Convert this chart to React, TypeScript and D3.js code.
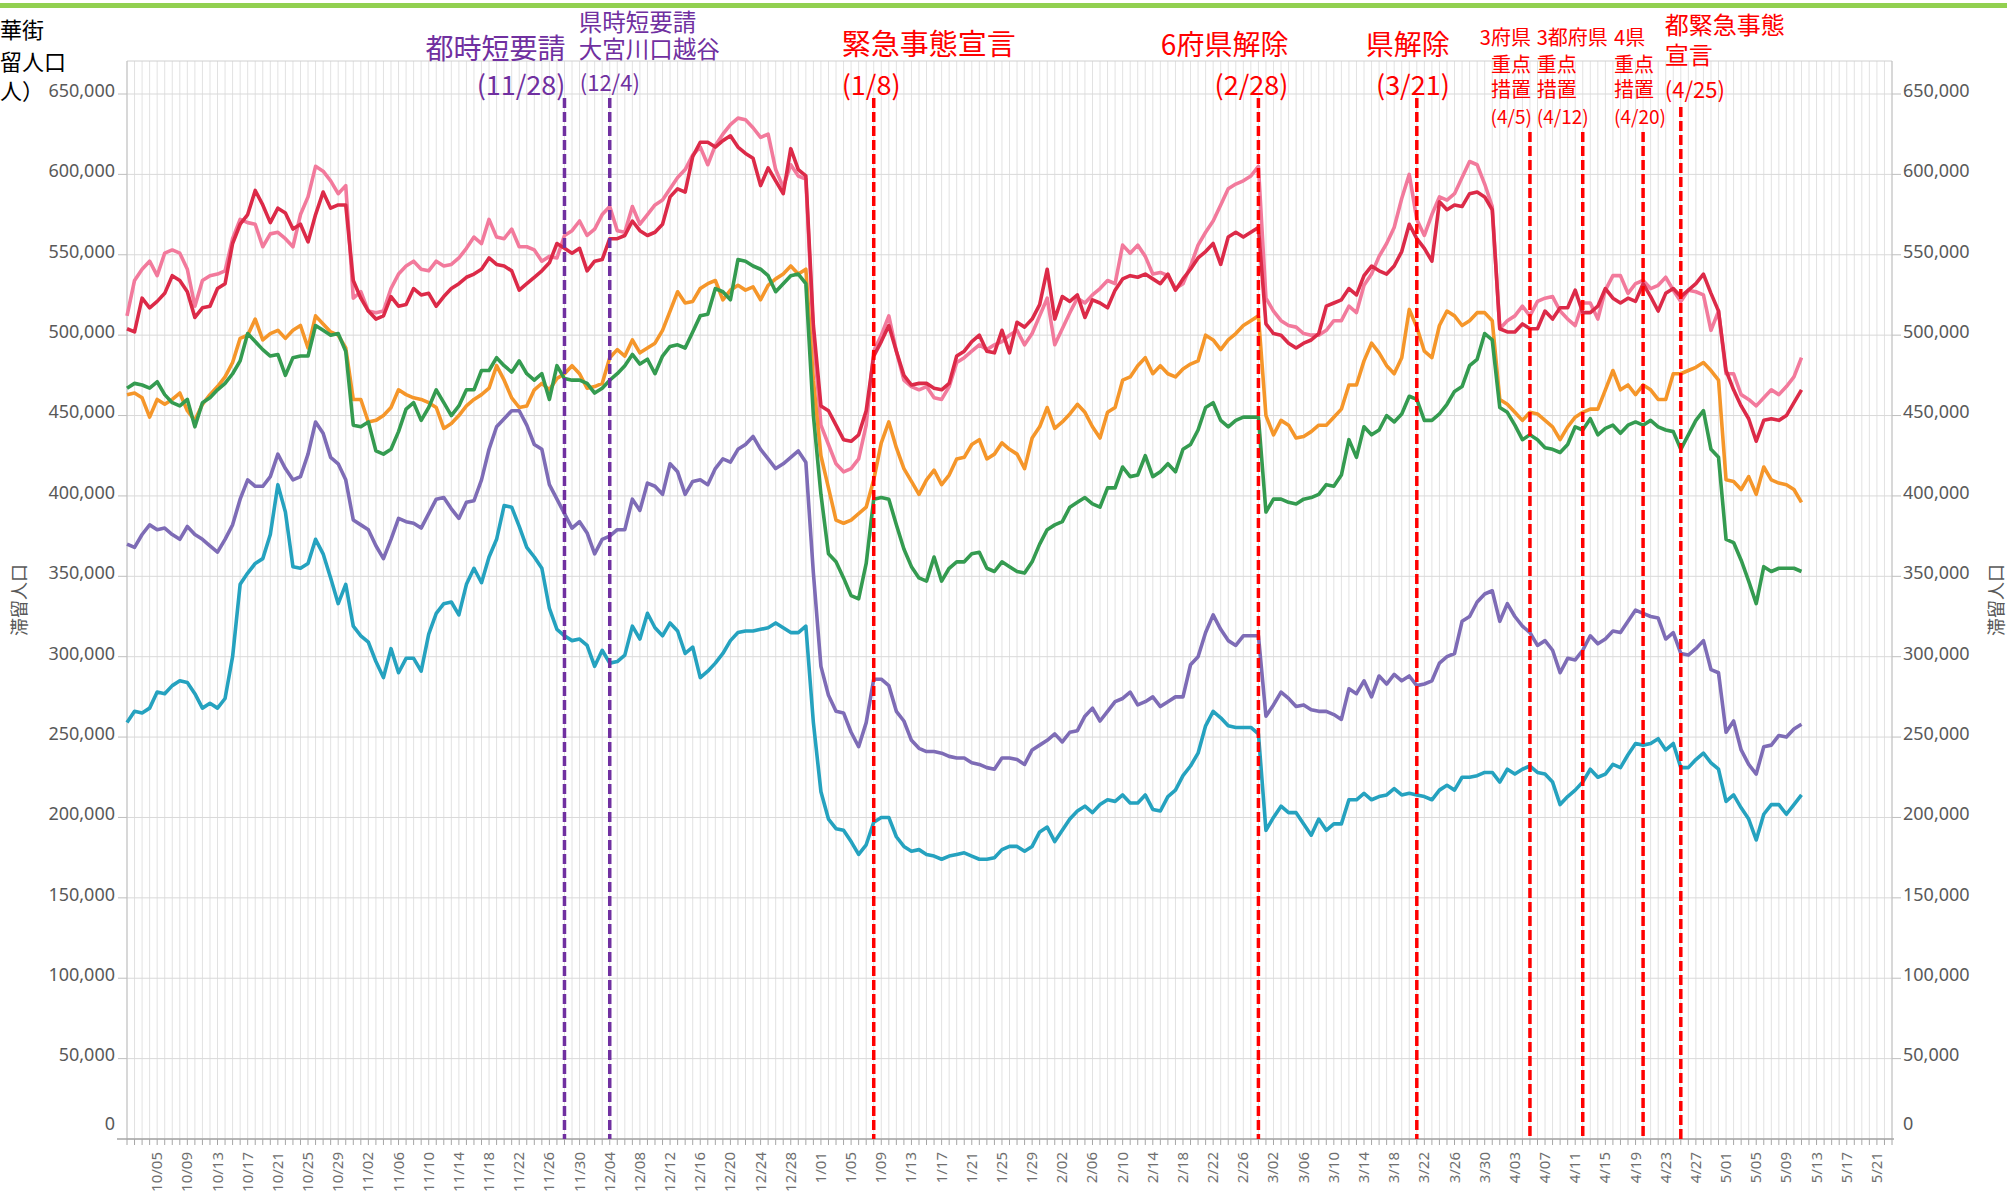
import React from 'react';
import * as d3 from 'd3';

// ---------------- DATA ----------------
const startDate = '2020-10-01';
const axisEndDate = '2021-05-23';

const seriesPink = [512,534,541,546,537,551,553,551,541,518, 534,537,538,540,560,572,570,569,555,563, 564,560,555,575,586,605,602,596,588,593, 523,527,515,514,515,529,538,543,546,541, 540,546,543,544,548,554,561,557,572,561, 560,566,555,555,553,546,549,548,562,565,
571,562,566,575,580,565,564,580,569,575, 581,584,591,598,603,612,617,606,618,625, 631,635,634,629,623,625,603,592,606,599, 597,500,444,432,420,415,417,423,444,490, 500,512,490,472,468,466,468,461,460,468, 483,486,490,494,491,
494,496,500,503,494, 501,512,523,494,504, 514,523,520,525,529, 534,532,556,551,556, 549,538,539,537,529, 532,543,556,564,571, 581,591,594,596,599, 605,523,515,509,506, 505,501,500,500,503, 509,509,518,514,531, 538,549,557,567,585, 600,
572,562,575,586,584,588,598,608,606,594, 580,504,509,512,518,512,521,523,524,515, 510,506,520,520,510,528,537,537,526,532, 534,529,531,536,528,521,528,527,525,503, 515,476,476,463,460,456,461,466,463,468, 474,486];

const seriesRed = [504,502,523,517,521,526,537,534,527,511, 517,518,529,532,557,569,575,590,581,570, 579,576,566,569,558,575,589,579,581,581, 534,523,515,510,512,524,518,519,529,525, 526,518,524,529,532,536,538,541,548,544, 543,540,528,532,536,540,545,557,554,551,
554,540,546,547,560,560,562,571,565,562, 564,569,586,591,589,611,620,620,617,621, 624,617,613,610,593,604,596,588,616,603, 599,506,456,453,444,435,434,438,453,487, 496,506,490,475,469,470,470,467,466,470, 487,490,496,500,490,
489,503,489,508,505, 510,519,541,510,524, 521,525,511,522,520, 517,528,535,537,536, 538,535,532,538,528, 535,541,548,552,557, 544,561,564,561,564, 567,507,501,500,495, 492,495,497,501,518, 520,522,529,525,537, 543,540,538,543,552, 569,
560,554,546,583,578,581,580,588,589,586, 578,504,502,502,507,504,504,515,510,517, 517,528,514,514,518,529,523,520,523,521, 532,524,515,526,529,524,528,532,538,526, 515,478,466,456,448,434,447,448,447,450, 458,466];

const seriesOrange = [463,464,461,449,460,457,460,464,453,447, 457,463,468,474,483,498,500,510,497,501, 503,498,503,506,492,512,507,502,500,492, 460,460,446,447,450,455,466,463,461,460, 458,455,442,445,450,456,460,463,467,481, 472,461,455,456,466,470,466,473,476,481,
476,467,468,470,486,491,487,497,489,492, 495,503,515,527,520,521,529,532,534,522, 528,531,528,530,522,531,535,538,543,538, 541,472,425,405,385,383,385,389,393,410, 433,446,430,417,409,401,410,416,407,413, 423,424,432,435,423,
426,433,429,426,417, 436,443,455,442,446, 451,457,452,443,436, 452,455,472,474,481, 486,476,481,476,474, 479,482,484,500,497, 491,497,501,506,509, 512,450,438,447,444, 436,437,440,444,444, 449,454,469,469,484, 495,489,481,476,486, 516,
505,490,486,506,515,512,506,509,514,514, 509,460,457,452,447,452,451,447,443,435, 443,449,452,454,454,466,478,466,469,463, 469,466,460,460,476,476,478,480,483,478, 472,410,409,404,412,401,418,410,408,407, 404,396];

const seriesGreen = [467,470,469,467,471,463,458,456,460,443, 458,461,466,470,476,484,501,496,491,487, 488,475,486,487,487,506,503,500,501,490, 444,443,446,428,426,429,440,454,458,447, 455,466,458,450,456,466,466,478,478,486, 481,477,484,476,472,476,460,481,473,472,
472,470,464,467,472,476,481,488,482,485, 476,487,493,494,492,502,512,513,529,527, 522,547,546,543,541,537,527,532,537,538, 532,450,401,364,359,349,338,336,358,398, 399,398,382,367,356,349,347,362,347,355, 359,359,364,365,355,
353,359,356,353,352, 359,370,379,382,384, 393,396,399,395,393, 405,405,418,412,413, 425,412,415,420,415, 429,432,441,455,458, 447,443,447,449,449, 449,390,398,398,396, 395,398,399,401,407, 406,413,435,424,443, 438,441,450,446,451, 462,
460,447,447,451,457,465,468,481,485,501, 497,455,452,444,435,438,435,430,429,427, 432,443,441,448,438,442,444,439,444,446, 444,447,443,441,440,429,438,447,453,429, 424,373,371,360,347,333,356,353,355,355, 355,353];

const seriesPurple = [370,368,376,382,379,380,376,373,381,376, 373,369,365,373,382,398,410,406,406,412, 426,417,410,412,426,446,439,424,420,410, 385,382,379,369,361,373,386,384,383,380, 389,398,399,392,386,396,397,410,429,443, 448,453,453,444,432,429,407,398,389,380,
384,377,364,373,375,379,379,398,391,408, 406,401,420,415,401,409,410,407,417,423, 421,429,432,437,429,423,417,420,424,428, 421,352,294,276,266,265,253,244,259,286, 286,282,266,260,248,243,241,241,240,238, 237,237,234,233,231,
230,237,237,236,233, 242,245,248,252,247, 253,254,263,268,260, 266,272,274,278,270, 272,275,269,272,275, 275,295,300,315,326, 317,310,307,313,313, 313,263,270,278,274, 269,270,267,266,266, 264,261,280,277,285, 275,288,283,289,285, 288,
282,283,285,296,300,302,322,325,334,339, 341,322,333,325,319,315,307,310,304,290, 299,298,304,313,308,311,316,315,322,329, 327,325,324,311,315,302,301,305,310,292, 290,253,260,242,233,227,244,245,251,250, 255,258];

const seriesTeal = [259,266,265,268,278,277,282,285,284,277, 268,271,268,274,300,345,352,358,361,376, 407,390,356,355,358,373,364,349,333,345, 319,313,309,297,287,305,290,299,299,291, 314,327,333,334,326,345,355,346,362,373, 394,393,381,368,362,355,330,317,313,310,
311,307,294,304,296,297,301,319,311,327, 318,313,321,316,302,306,287,291,296,302, 310,315,316,316,317,318,321,318,315,315, 319,259,216,199,193,192,185,177,183,197, 200,200,188,182,179,180,177,176,174,176, 177,178,176,174,174,
175,180,182,182,179, 182,191,194,185,192, 199,204,207,203,208, 211,210,214,209,209, 214,205,204,213,217, 226,232,240,257,266, 262,257,256,256,256, 252,192,200,207,203, 203,196,189,199,192, 196,196,211,211,215, 211,213,214,218,214, 215,
214,213,211,217,220,217,225,225,226,228, 228,222,230,227,230,232,228,227,222,208, 213,217,222,230,225,227,233,231,239,246, 245,246,249,242,246,231,231,236,240,234, 230,210,214,206,199,186,202,208,208,202, 208,214];

const yTickValues = [0,50000,100000,150000,200000,250000,300000,350000,400000,450000,500000,550000,600000,650000];

const eventDates = ['2020-11-28','2020-12-04','2021-01-08','2021-02-28','2021-03-21','2021-04-05','2021-04-12','2021-04-20','2021-04-25'];

// ---------------- STYLE / LAYOUT ----------------
const W = 2007, H = 1196;
const L = 127, R = 1892, T = 61, B = 1139;
const FONT = "'Noto Sans CJK JP', 'Noto Sans', sans-serif";
const NUMFONT = "'Noto Sans', sans-serif";
const PURPLE = '#7030a0';
const RED = '#ff0000';
const GRAY = '#595959';

const seriesList = [
  { name: 'pink', values: seriesPink, color: '#f27a9c' },
  { name: 'red', values: seriesRed, color: '#dc2a48' },
  { name: 'orange', values: seriesOrange, color: '#f5962a' },
  { name: 'green', values: seriesGreen, color: '#349b50' },
  { name: 'purple', values: seriesPurple, color: '#7e6cb6' },
  { name: 'teal', values: seriesTeal, color: '#25a2bf' },
];

const eventStyle = [
  { color: PURPLE, top: 98 }, { color: PURPLE, top: 98 },
  { color: RED, top: 98 }, { color: RED, top: 98 }, { color: RED, top: 98 },
  { color: RED, top: 132 }, { color: RED, top: 132 }, { color: RED, top: 132 },
  { color: RED, top: 107 },
];

type Ann = { t: string; x: number; y: number; s: number; a: 'start' | 'end'; c: string };

export default function App() {
  const parse = d3.utcParse('%Y-%m-%d');
  const d0 = parse(startDate)!;
  const d1 = parse(axisEndDate)!;
  const x = d3.scaleUtc().domain([d0, d1]).range([L, R]);
  const y = d3.scaleLinear().domain([0, 650000]).range([B, 94]);
  const allDays = d3.utcDay.range(d0, d3.utcDay.offset(d1, 1));
  const firstLabel = parse('2020-10-05')!;
  const labelDays = allDays.filter((d) => d >= firstLabel && d3.utcDay.count(firstLabel, d) % 4 === 0);
  const fmt = d3.utcFormat('%-m/%d');
  const numFmt = d3.format(',');

  const line = d3.line<number>()
    .x((_, i) => x(d3.utcDay.offset(d0, i)))
    .y((v) => y(v * 1000));

  const ex = (s: string) => x(parse(s)!);

  const anns: Ann[] = [
    { t: '都時短要請', x: ex('2020-11-28') + 1, y: 59, s: 28, a: 'end', c: PURPLE },
    { t: '(11/28)', x: ex('2020-11-28') + 1, y: 95, s: 27, a: 'end', c: PURPLE },
    { t: '県時短要請', x: ex('2020-12-04') - 31, y: 31, s: 23.5, a: 'start', c: PURPLE },
    { t: '大宮川口越谷', x: ex('2020-12-04') - 31, y: 58, s: 23.5, a: 'start', c: PURPLE },
    { t: '(12/4)', x: ex('2020-12-04') - 30, y: 91, s: 22, a: 'start', c: PURPLE },
    { t: '緊急事態宣言', x: ex('2021-01-08') - 32, y: 55, s: 29, a: 'start', c: RED },
    { t: '(1/8)', x: ex('2021-01-08') - 32, y: 95, s: 27, a: 'start', c: RED },
    { t: '6府県解除', x: ex('2021-02-28') + 30, y: 55, s: 28, a: 'end', c: RED },
    { t: '(2/28)', x: ex('2021-02-28') + 30, y: 95, s: 27, a: 'end', c: RED },
    { t: '県解除', x: ex('2021-03-21') + 33, y: 55, s: 28, a: 'end', c: RED },
    { t: '(3/21)', x: ex('2021-03-21') + 33, y: 95, s: 27, a: 'end', c: RED },
    { t: '3府県', x: ex('2021-04-05') + 1, y: 45, s: 20, a: 'end', c: RED },
    { t: '重点', x: ex('2021-04-05') + 1, y: 72, s: 20, a: 'end', c: RED },
    { t: '措置', x: ex('2021-04-05') + 1, y: 97, s: 20, a: 'end', c: RED },
    { t: '(4/5)', x: ex('2021-04-05') + 2, y: 124, s: 19, a: 'end', c: RED },
    { t: '3都府県', x: ex('2021-04-12') - 46, y: 45, s: 20, a: 'start', c: RED },
    { t: '重点', x: ex('2021-04-12') - 46, y: 72, s: 20, a: 'start', c: RED },
    { t: '措置', x: ex('2021-04-12') - 46, y: 97, s: 20, a: 'start', c: RED },
    { t: '(4/12)', x: ex('2021-04-12') - 46, y: 124, s: 19, a: 'start', c: RED },
    { t: '4県', x: ex('2021-04-20') - 29, y: 45, s: 20, a: 'start', c: RED },
    { t: '重点', x: ex('2021-04-20') - 29, y: 72, s: 20, a: 'start', c: RED },
    { t: '措置', x: ex('2021-04-20') - 29, y: 97, s: 20, a: 'start', c: RED },
    { t: '(4/20)', x: ex('2021-04-20') - 29, y: 124, s: 19, a: 'start', c: RED },
    { t: '都緊急事態', x: ex('2021-04-25') - 16, y: 34, s: 24, a: 'start', c: RED },
    { t: '宣言', x: ex('2021-04-25') - 16, y: 64, s: 24, a: 'start', c: RED },
    { t: '(4/25)', x: ex('2021-04-25') - 16, y: 98, s: 22, a: 'start', c: RED },
  ];

  return (
    <svg width={W} height={H} style={{ position: 'absolute', left: 0, top: 0, background: '#fff' }} fontFamily={FONT}>
      <rect x={0} y={0} width={W} height={H} fill="#fff" />
      <rect x={0} y={3} width={W} height={5} fill="#92d050" />
      {/* vertical daily grid */}
      {allDays.map((d, i) => (
        <line key={'vg' + i} x1={x(d)} x2={x(d)} y1={T} y2={B} stroke="#e2e2e2" strokeWidth={1} />
      ))}
      {/* horizontal grid */}
      {yTickValues.map((v) => (
        <line key={'hg' + v} x1={L} x2={R} y1={y(v)} y2={y(v)} stroke="#d9d9d9" strokeWidth={1} />
      ))}
      <line x1={L} x2={R} y1={T} y2={T} stroke="#d0d0d0" />
      <line x1={L} x2={L} y1={T} y2={B} stroke="#bfbfbf" />
      <line x1={R} x2={R} y1={T} y2={B} stroke="#bfbfbf" />
      {/* y ticks & labels */}
      {yTickValues.map((v) => (
        <g key={'yt' + v}>
          {v > 0 && <line x1={L - 9} x2={L} y1={y(v)} y2={y(v)} stroke="#bfbfbf" />}
          {v > 0 && <line x1={R} x2={R + 9} y1={y(v)} y2={y(v)} stroke="#bfbfbf" />}
          <text x={L - 12} y={v === 0 ? y(v) - 14 : y(v) - 2} textAnchor="end" dominantBaseline="middle" fontSize={18} fontFamily={NUMFONT} fill={GRAY}>{numFmt(v)}</text>
          <text x={R + 11} y={v === 0 ? y(v) - 14 : y(v) - 2} textAnchor="start" dominantBaseline="middle" fontSize={18} fontFamily={NUMFONT} fill={GRAY}>{numFmt(v)}</text>
        </g>
      ))}
      {/* x axis */}
      <line x1={L - 10} x2={R + 2} y1={B} y2={B} stroke="#a6a6a6" strokeWidth={1.5} />
      {allDays.map((d, i) => (
        <line key={'xt' + i} x1={x(d)} x2={x(d)} y1={B} y2={B + 6} stroke="#a6a6a6" />
      ))}
      {labelDays.map((d, i) => (
        <text key={'xl' + i} transform={`translate(${x(d) + 5},${B + 13}) rotate(-90)`} textAnchor="end" fontSize={15} fontFamily={NUMFONT} fill="#6e6e6e">{fmt(d)}</text>
      ))}
      {/* axis titles */}
      <text transform={`translate(26,600) rotate(-90)`} textAnchor="middle" fontSize={18} fill={GRAY}>滞留人口</text>
      <text transform={`translate(2003,600) rotate(-90)`} textAnchor="middle" fontSize={18} fill={GRAY}>滞留人口</text>
      <text x={0} y={38} fontSize={22} fill="#000">華街</text>
      <text x={0} y={70} fontSize={22} fill="#000">留人口</text>
      <text x={0} y={99} fontSize={22} fill="#000">人）</text>
      {/* series */}
      {seriesList.map((s) => (
        <path key={s.name} d={line(s.values) || ''} fill="none" stroke={s.color} strokeWidth={3.6} strokeLinejoin="round" />
      ))}
      {/* event lines */}
      {eventDates.map((e, i) => (
        <line key={'ev' + i} x1={ex(e)} x2={ex(e)} y1={eventStyle[i].top} y2={B} stroke={eventStyle[i].color} strokeWidth={3.5} strokeDasharray="10,4" />
      ))}
      {anns.map((a, i) => (
        <text key={'an' + i} x={a.x} y={a.y} fontSize={a.s} fill={a.c} textAnchor={a.a}>{a.t}</text>
      ))}
    </svg>
  );
}
